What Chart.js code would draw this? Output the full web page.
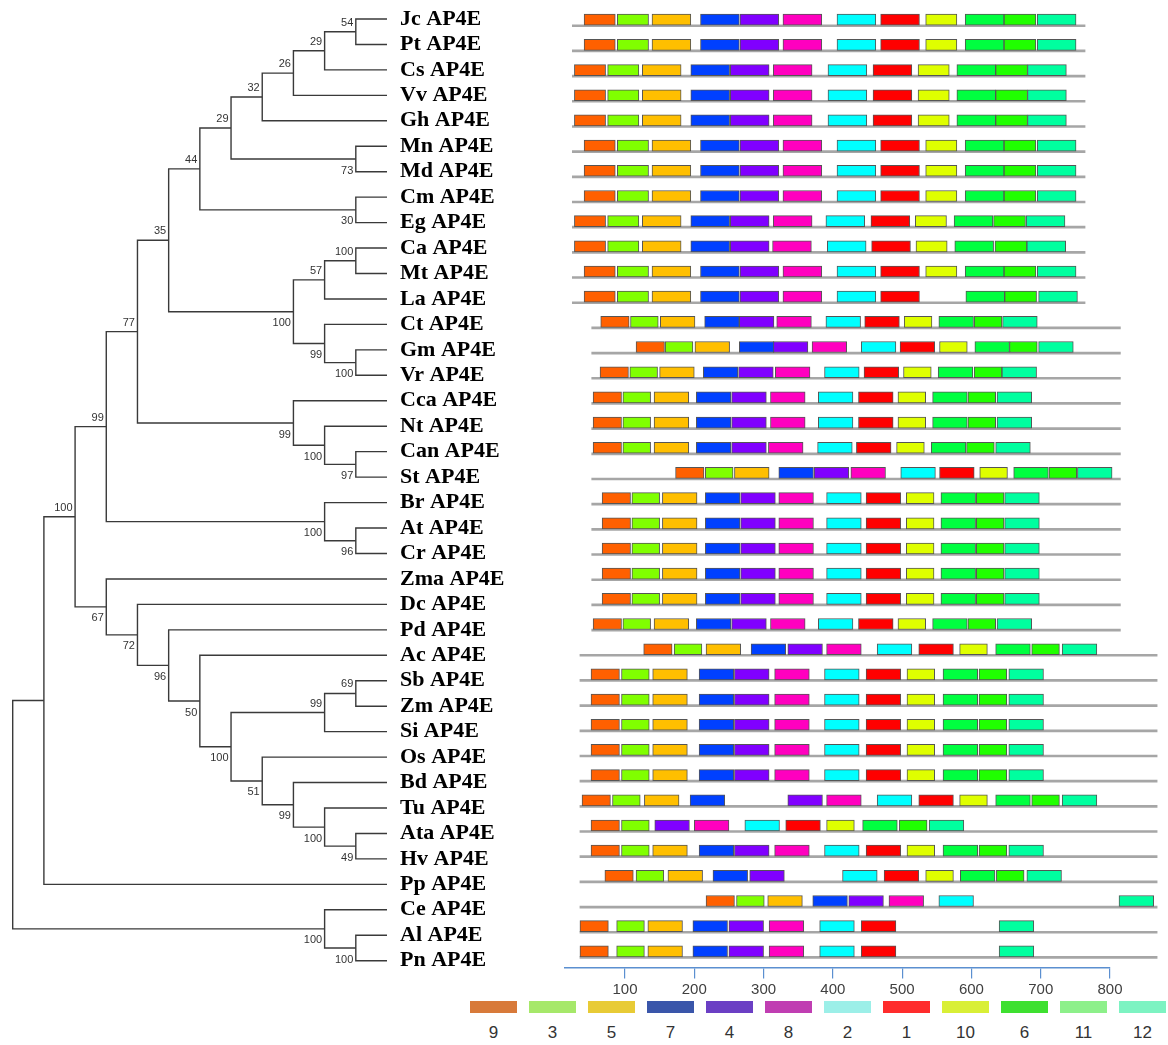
<!DOCTYPE html>
<html>
<head>
<meta charset="utf-8">
<script src="https://cdn.jsdelivr.net/npm/chart.js@4.4.1/dist/chart.umd.min.js"></script>
<style>
  body { margin: 0; background: #fff; width: 1168px; height: 1045px; position: relative; overflow: hidden; }
  #tree { position: absolute; left: 0; top: 0; }
  #motif { position: absolute; left: 556px; top: 0; }
  #legend { position: absolute; left: 470px; top: 1001px; display: flex; font-family: "Liberation Sans", Arial, sans-serif; }
  #legend .item { width: 59px; }
  #legend .box { width: 47px; height: 12px; }
  #legend .num { width: 47px; margin-top: 10px; text-align: center; font-size: 17px; line-height: 20px; color: #333; }
</style>
</head>
<body>
<canvas id="tree" width="556" height="1000"></canvas>
<canvas id="motif" width="612" height="1000"></canvas>
<div id="legend"></div>
<script>
// tree (topology + bootstrap values)
var treeNewick = "((((((((((((Jc,Pt)54,Cs)29,Vv)26,Gh)32,(Mn,Md)73)29,(Cm,Eg)30)44,(((Ca,Mt)100,La)57,(Ct,(Gm,Vr)100)99)100)35,(Cca,(Nt,(Can,St)97)100)99)77,(Br,(At,Cr)96)100)99,(Zma,(Dc,(Pd,(Ac,(((Sb,Zm)69,Si)99,(Os,(Bd,(Tu,(Ata,Hv)49)100)99)51)100)50)96)72)67)100,Pp),(Ce,(Al,Pn)100)100);";

var taxa = ["Jc","Pt","Cs","Vv","Gh","Mn","Md","Cm","Eg","Ca","Mt","La","Ct","Gm","Vr","Cca","Nt","Can","St",
            "Br","At","Cr","Zma","Dc","Pd","Ac","Sb","Zm","Si","Os","Bd","Tu","Ata","Hv","Pp","Ce","Al","Pn"];

// motifs, in the order they sit along the proteins
var motifNames = ["9","3","5","7","4","8","2","1","10","6","11","12"];
var motifColors = ["#ff6000","#80ff00","#ffbf00","#0040ff","#8000ff","#ff00bf","#00ffff","#ff0000","#dfff00","#00ff40","#20ff00","#00ff9f"];
var legendColors = ["#d87a3a","#a6e86a","#e8cb36","#3a56aa","#6b3fc4","#c03eb2","#9cefe8","#ff2c2c","#d9ef36","#3ee030","#8df08a","#7df3c2"];
var motifLenTop = [45,45,56,56,56,56,56,56,45,56,46,56];   // first 12 rows
var motifLenLow = [41,40,50,50,50,50,50,50,40,50,40,50];   // remaining rows
var topRows = 12;

var proteinSpan = [
  [24,764],[24,764],[24,764],[24,764],[24,764],[24,764],[24,764],[24,764],[24,764],[24,764],[24,764],[24,764],
  [52,815],[52,815],[52,815],[52,815],[52,815],[52,815],[52,815],[52,815],[52,815],[52,815],[52,815],[52,815],[52,815],
  [35,868],[35,868],[35,868],[35,868],[35,868],[35,868],[35,868],[35,868],[35,868],[35,868],[35,868],[35,868],[35,868]
];

// start of each motif per protein (null = absent)
var motifStarts = [
  [41,89,139,209,266,328,406,469,534,591,647,695],   // Jc
  [41,89,139,209,266,328,406,469,534,591,647,695],   // Pt
  [27,75,125,195,252,314,393,458,523,579,635,681],   // Cs
  [27,75,125,195,252,314,393,458,523,579,635,681],   // Vv
  [27,75,125,195,252,314,393,458,523,579,635,681],   // Gh
  [41,89,139,209,266,328,406,469,534,591,647,695],   // Mn
  [41,89,139,209,266,328,406,469,534,591,647,695],   // Md
  [41,89,139,209,266,328,406,469,534,591,647,695],   // Cm
  [27,75,125,195,252,314,390,455,519,575,632,679],   // Eg
  [27,75,125,195,252,313,392,456,520,576,634,680],   // Ca
  [41,89,139,209,266,328,406,469,534,591,647,695],   // Mt
  [41,89,139,209,266,328,406,469,null,592,648,697],  // La
  [65,108,151,215,265,319,390,446,503,553,604,645],  // Ct
  [116,158,201,265,314,370,441,497,554,605,655,697], // Gm
  [64,107,150,213,264,317,388,445,502,552,604,644],  // Vr
  [54,97,142,203,254,310,379,437,494,544,595,637],   // Cca
  [54,97,142,203,254,310,379,437,494,544,595,637],   // Nt
  [54,97,142,203,254,307,378,434,492,542,593,635],   // Can
  [173,216,258,322,373,426,498,554,612,661,712,753], // St
  [67,110,154,216,267,322,391,448,506,556,607,648],  // Br
  [67,110,154,216,267,322,391,448,506,556,607,648],  // At
  [67,110,154,216,267,322,391,448,506,556,607,648],  // Cr
  [67,110,154,216,267,322,391,448,506,556,607,648],  // Zma
  [67,110,154,216,267,322,391,448,506,556,607,648],  // Dc
  [54,97,142,203,254,310,379,437,494,544,595,637],   // Pd
  [127,171,217,282,335,391,464,524,583,635,687,731], // Ac
  [51,95,140,207,258,316,388,448,507,559,611,654],   // Sb
  [51,95,140,207,258,316,388,448,507,559,611,654],   // Zm
  [51,95,140,207,258,316,388,448,507,559,611,654],   // Si
  [51,95,140,207,258,316,388,448,507,559,611,654],   // Os
  [51,95,140,207,258,316,388,448,507,559,611,654],   // Bd
  [38,82,128,194,335,391,464,524,583,635,687,731],   // Tu
  [51,95,null,null,143,200,273,332,391,443,496,539], // Ata
  [51,95,140,207,258,316,388,448,507,559,611,654],   // Hv
  [71,116,162,227,280,null,414,474,534,584,636,680], // Pp
  [217,261,306,371,423,481,553,null,null,null,null,813], // Ce
  [35,88,133,198,250,308,381,441,null,null,null,640],    // Al
  [35,88,133,198,250,308,381,441,null,null,null,640]     // Pn
];

var axisTicks = [100,200,300,400,500,600,700,800];

// ---- tree layout ----
function parseNewick(s) {
  var i = 0;
  function node() {
    var n = { children: [] };
    if (s[i] === '(') {
      i++;
      n.children.push(node());
      while (s[i] === ',') { i++; n.children.push(node()); }
      i++;
    }
    var tok = '';
    while (i < s.length && ',();'.indexOf(s[i]) < 0) tok += s[i++];
    if (n.children.length) n.support = tok; else n.name = tok;
    return n;
  }
  return node();
}

var root = parseNewick(treeNewick);
function height(n) {
  if (!n.children.length) return 0;
  return 1 + Math.max.apply(null, n.children.map(height));
}
var maxH = height(root);
var internalNodes = [];
function place(n, upper) {
  n.upper = upper;
  n.children.forEach(function (c, k) { place(c, k === 0); });
  n.level = maxH - height(n);
  if (!n.children.length) n.y = taxa.indexOf(n.name);
  else {
    n.y = (n.children[0].y + n.children[n.children.length - 1].y) / 2;
    internalNodes.push(n);
  }
}
place(root, true);

var branchSets = internalNodes.map(function (n) {
  var a = n.children[0], b = n.children[n.children.length - 1];
  return {
    data: [{x: a.level, y: a.y}, {x: n.level, y: a.y}, {x: n.level, y: b.y}, {x: b.level, y: b.y}],
    borderColor: '#3a3a3a', borderWidth: 1.4, pointRadius: 0, tension: 0, fill: false, clip: false
  };
});

var bootstrapLabels = {
  id: 'bootstrapLabels',
  afterDatasetsDraw: function (chart) {
    var ctx = chart.ctx, x = chart.scales.x, y = chart.scales.y;
    ctx.save();
    ctx.font = '11px "Liberation Sans", Arial, sans-serif';
    ctx.fillStyle = '#333';
    ctx.textAlign = 'right';
    ctx.textBaseline = 'middle';
    internalNodes.forEach(function (n) {
      if (!n.support) return;
      var px = x.getPixelForValue(n.level), py = y.getPixelForValue(n.y);
      ctx.fillText(n.support, px - 2.5, py + (n.upper ? -9 : 11.5));
    });
    ctx.restore();
  }
};

new Chart(document.getElementById('tree'), {
  type: 'line',
  data: { datasets: branchSets },
  options: {
    responsive: false,
    animation: false,
    layout: { padding: { left: 12.7, top: 19, bottom: 39.3, right: 0 } },
    plugins: { legend: { display: false }, tooltip: { enabled: false } },
    scales: {
      x: { type: 'linear', min: 0, max: maxH, display: false },
      y: {
        type: 'linear', min: 0, max: taxa.length - 1, reverse: true, position: 'right',
        grid: { display: false, drawTicks: false }, border: { display: false },
        afterBuildTicks: function (s) { s.ticks = taxa.map(function (t, i) { return { value: i }; }); },
        afterFit: function (s) { s.width = 169; s.paddingTop = 0; s.paddingBottom = 0; },
        ticks: {
          autoSkip: false, padding: 13, color: '#000',
          font: { family: '"Liberation Serif", "Times New Roman", serif', size: 22, weight: 'bold' },
          callback: function (v) { return taxa[v] + ' AP4E'; }
        }
      }
    }
  },
  plugins: [bootstrapLabels]
});

// ---- motif diagram ----
var motifSets = motifNames.map(function (m, k) {
  var pts = [];
  motifStarts.forEach(function (row, i) {
    if (row[k] === null) return;
    var len = i < topRows ? motifLenTop[k] : motifLenLow[k];
    pts.push({ x: [row[k], row[k] + len], y: i });
  });
  return {
    label: m, data: pts, backgroundColor: motifColors[k], borderColor: '#555', borderWidth: 1,
    borderSkipped: false, barThickness: 11, grouped: false, clip: false, order: 0
  };
});
motifSets.push({
  label: 'protein', data: proteinSpan.map(function (sp, i) { return { x: sp, y: i + 0.24 }; }),
  backgroundColor: '#a6a6a6', borderWidth: 0, barThickness: 2, grouped: false, clip: false, order: 1
});

new Chart(document.getElementById('motif'), {
  type: 'bar',
  data: { datasets: motifSets },
  options: {
    indexAxis: 'y',
    responsive: false,
    animation: false,
    layout: { padding: { left: 8.7, right: 58, top: 7.1, bottom: 0 } },
    plugins: { legend: { display: false }, tooltip: { enabled: false } },
    scales: {
      y: { type: 'linear', min: -0.5, max: 37.64, reverse: true, offset: false, display: false },
      x: {
        type: 'linear', min: 13, max: 800, position: 'bottom',
        afterBuildTicks: function (s) { s.ticks = axisTicks.map(function (v) { return { value: v }; }); },
        afterFit: function (s) { s.height = 32.5; },
        grid: { drawOnChartArea: false, drawTicks: true, tickLength: 11, color: '#5b8fd0', lineWidth: 1.2 },
        border: { display: true, color: '#5b8fd0', width: 1.5 },
        ticks: { color: '#404040', padding: 2, font: { family: '"Liberation Sans", Arial, sans-serif', size: 15 } }
      }
    }
  }
});

// legend
var lg = document.getElementById('legend');
motifNames.forEach(function (m, k) {
  var it = document.createElement('div');
  it.className = 'item';
  it.innerHTML = '<div class="box" style="background:' + legendColors[k] + '"></div><div class="num">' + m + '</div>';
  lg.appendChild(it);
});
</script>
</body>
</html>
